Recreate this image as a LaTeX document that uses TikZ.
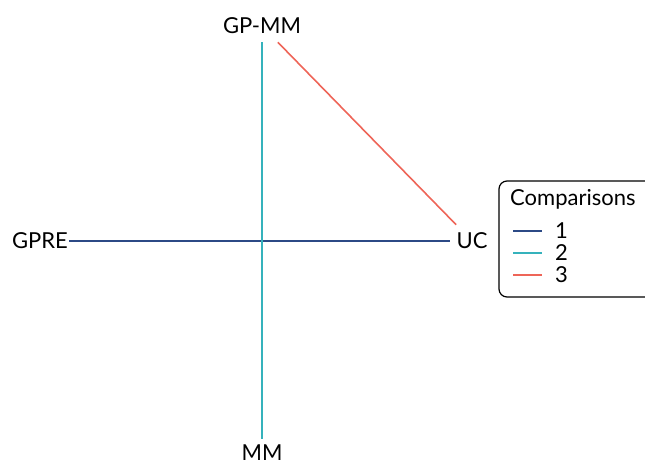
\documentclass[tikz,border=0pt]{standalone}
\usepackage{fontspec}
\setmainfont{Lato}
\usepackage{tikz}
\usetikzlibrary{positioning}

\definecolor{cmpone}{HTML}{2C4A86}
\definecolor{cmptwo}{HTML}{35B2BC}
\definecolor{cmpthree}{HTML}{EE6558}

\begin{document}
\begin{tikzpicture}[x=1pt, y=-1pt,
    every node/.style={font=\fontsize{22}{26}\selectfont},
    vert/.style={inner xsep=1pt, inner ysep=8pt},
    edge/.style={line width=1.6pt}]
    \useasboundingbox (0,0) rectangle (645,467);

    % Vertices
    \node[vert] (gpmm) at (262,26) {GP-MM};
    \node[vert] (gpre) at (40,241) {GPRE};
    \node[vert, inner xsep=6pt] (uc) at (472,241) {UC};
    \node[vert, inner ysep=2pt] (mm) at (262,453) {MM};

    % Edges
    \draw[edge, cmpone] (gpre) -- (uc);
    \draw[edge, cmptwo, shorten >=4pt] (gpmm) -- (mm);
    \draw[edge, cmpthree] (gpmm) -- (uc);

    % Legend
    \draw[line width=1.2pt, rounded corners=8pt] (645,181) -| (499,297) -- (645,297);
    \node[anchor=west, inner xsep=0pt] (legtitle) at (510,199) {Comparisons};
    \foreach \i/\col/\y in {1/cmpone/231, 2/cmptwo/253, 3/cmpthree/275} {
        \draw[edge, \col] (513,\y) -- (542,\y);
        \node[anchor=west, inner xsep=0pt] (key\i) at (555,\y) {\i};
    }
\end{tikzpicture}
\end{document}
